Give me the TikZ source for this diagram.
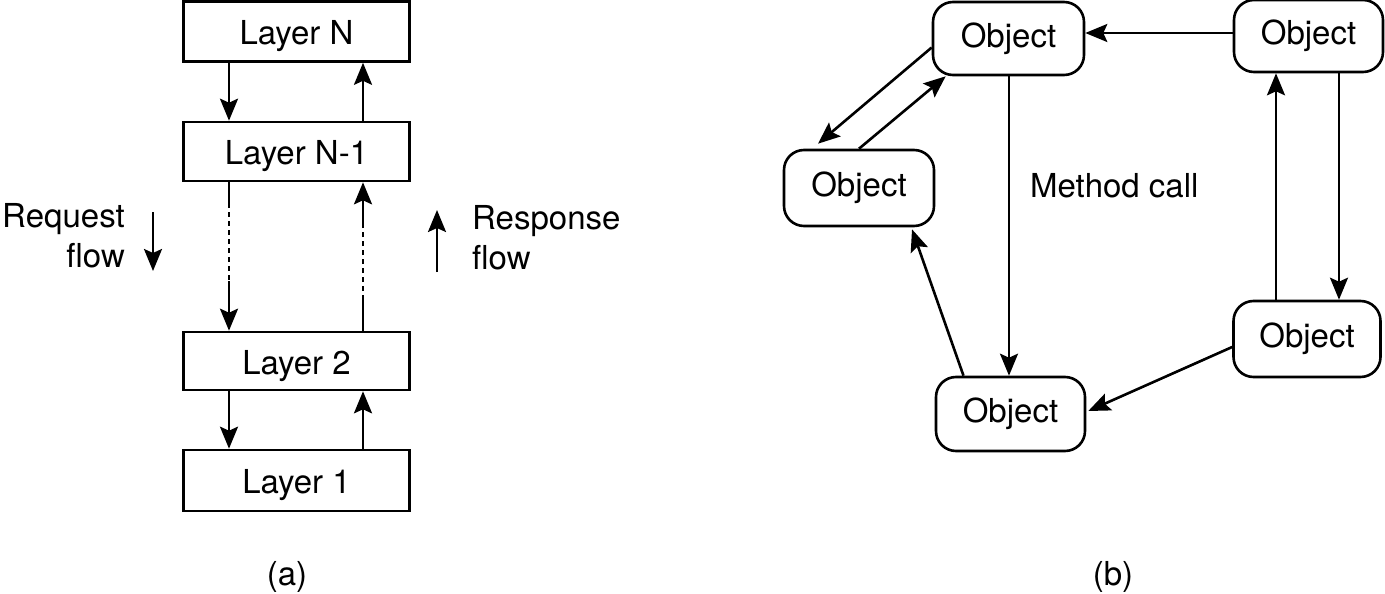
\documentclass[tikz,border=0pt]{standalone}
\usepackage{fontspec}
\setmainfont{TeX Gyre Heros}
\usetikzlibrary{arrows.meta}
\begin{document}
\begin{tikzpicture}[x=1pt,y=-1pt,
  every node/.style={font=\fontsize{33}{40}\selectfont},
  layerbox/.style={draw,line width=2.6pt,minimum width=226pt,inner sep=0pt,text height=26pt,text depth=0pt},
  objbox/.style={draw,line width=2.6pt,rounded corners=20pt,inner sep=0pt},
  arr/.style={line width=2.6pt,-{Stealth[length=22pt,width=18pt,inset=4pt]}},
  ln/.style={line width=2.6pt},
  dsh/.style={line width=2.6pt,dash pattern=on 5pt off 4pt}]
\useasboundingbox (0,0) rectangle (1385,594);
% (a)
\node[layerbox,minimum height=60pt] (LN) at (296.5,31.5) {Layer N};
\node[layerbox,minimum height=59pt] (LN1) at (296.5,151.5) {Layer N-1};
\node[layerbox,minimum height=58pt] (L2) at (296.5,361) {Layer 2};
\node[layerbox,minimum height=61pt] (L1) at (296.5,480.5) {Layer 1};
\coordinate (xl) at (229,0);
\coordinate (xr) at (363,0);
\draw[arr] (LN.south -| xl) -- (LN1.north -| xl);
\draw[arr] (LN1.north -| xr) -- (LN.south -| xr);
\coordinate (d1) at (229,203);
\coordinate (d2) at (229,281);
\draw[ln] (LN1.south -| xl) -- (d1);
\draw[dsh] (d1) -- (d2);
\draw[arr] (d2) -- (L2.north -| xl);
\coordinate (u1) at (363,300);
\coordinate (u2) at (363,227);
\draw[ln] (L2.north -| xr) -- (u1);
\draw[dsh] (u1) -- (u2);
\draw[arr] (u2) -- (LN1.south -| xr);
\draw[arr] (L2.south -| xl) -- (L1.north -| xl);
\draw[arr] (L1.north -| xr) -- (L2.south -| xr);
\node[align=right,anchor=east,inner sep=0pt] (req) at (125,236) {Request\\flow};
\coordinate (ra1) at (153,212);
\coordinate (ra2) at (153,271);
\draw[arr] (ra1) -- (ra2);
\node[align=left,anchor=west,inner sep=0pt] (resp) at (472,238) {Response\\flow};
\coordinate (rb1) at (437,272);
\coordinate (rb2) at (437,210);
\draw[arr] (rb1) -- (rb2);
\node (capa) at (287,577) {(a)};
% (b)
\node[objbox,minimum width=151pt,minimum height=73pt] (O1) at (1008.5,38.5) {Object};
\node[objbox,minimum width=149pt,minimum height=72pt] (O2) at (1308.5,36) {Object};
\node[objbox,minimum width=150pt,minimum height=76pt] (O3) at (859,188) {Object};
\node[objbox,minimum width=147pt,minimum height=76pt] (O4) at (1307,339) {Object};
\node[objbox,minimum width=149pt,minimum height=74pt] (O5) at (1010.5,414) {Object};
\coordinate (yh) at (0,33);
\draw[arr] (O2.west |- yh) -- (O1.east |- yh);
\draw[arr] ([yshift=-9pt]O1.west) -- ([xshift=-41pt,yshift=5pt]O3.north);
\draw[arr] (O3.north) -- ([xshift=14pt]O1.south west);
\coordinate (xm) at (1009,0);
\draw[arr] (O1.south -| xm) -- (O5.north -| xm);
\draw[arr] ([xshift=-47pt]O5.north) -- ([xshift=53pt,yshift=-2pt]O3.south);
\draw[arr] ([yshift=-8pt]O4.west) -- ([xshift=2pt,yshift=3pt]O5.east);
\coordinate (xa) at (1276,0);
\coordinate (xb) at (1339,0);
\draw[arr] (O4.north -| xa) -- (O2.south -| xa);
\draw[arr] (O2.south -| xb) -- (O4.north -| xb);
\node[anchor=west,inner sep=0pt] (mc) at (1030,186) {Method call};
\node (capb) at (1113,577) {(b)};
\end{tikzpicture}
\end{document}
